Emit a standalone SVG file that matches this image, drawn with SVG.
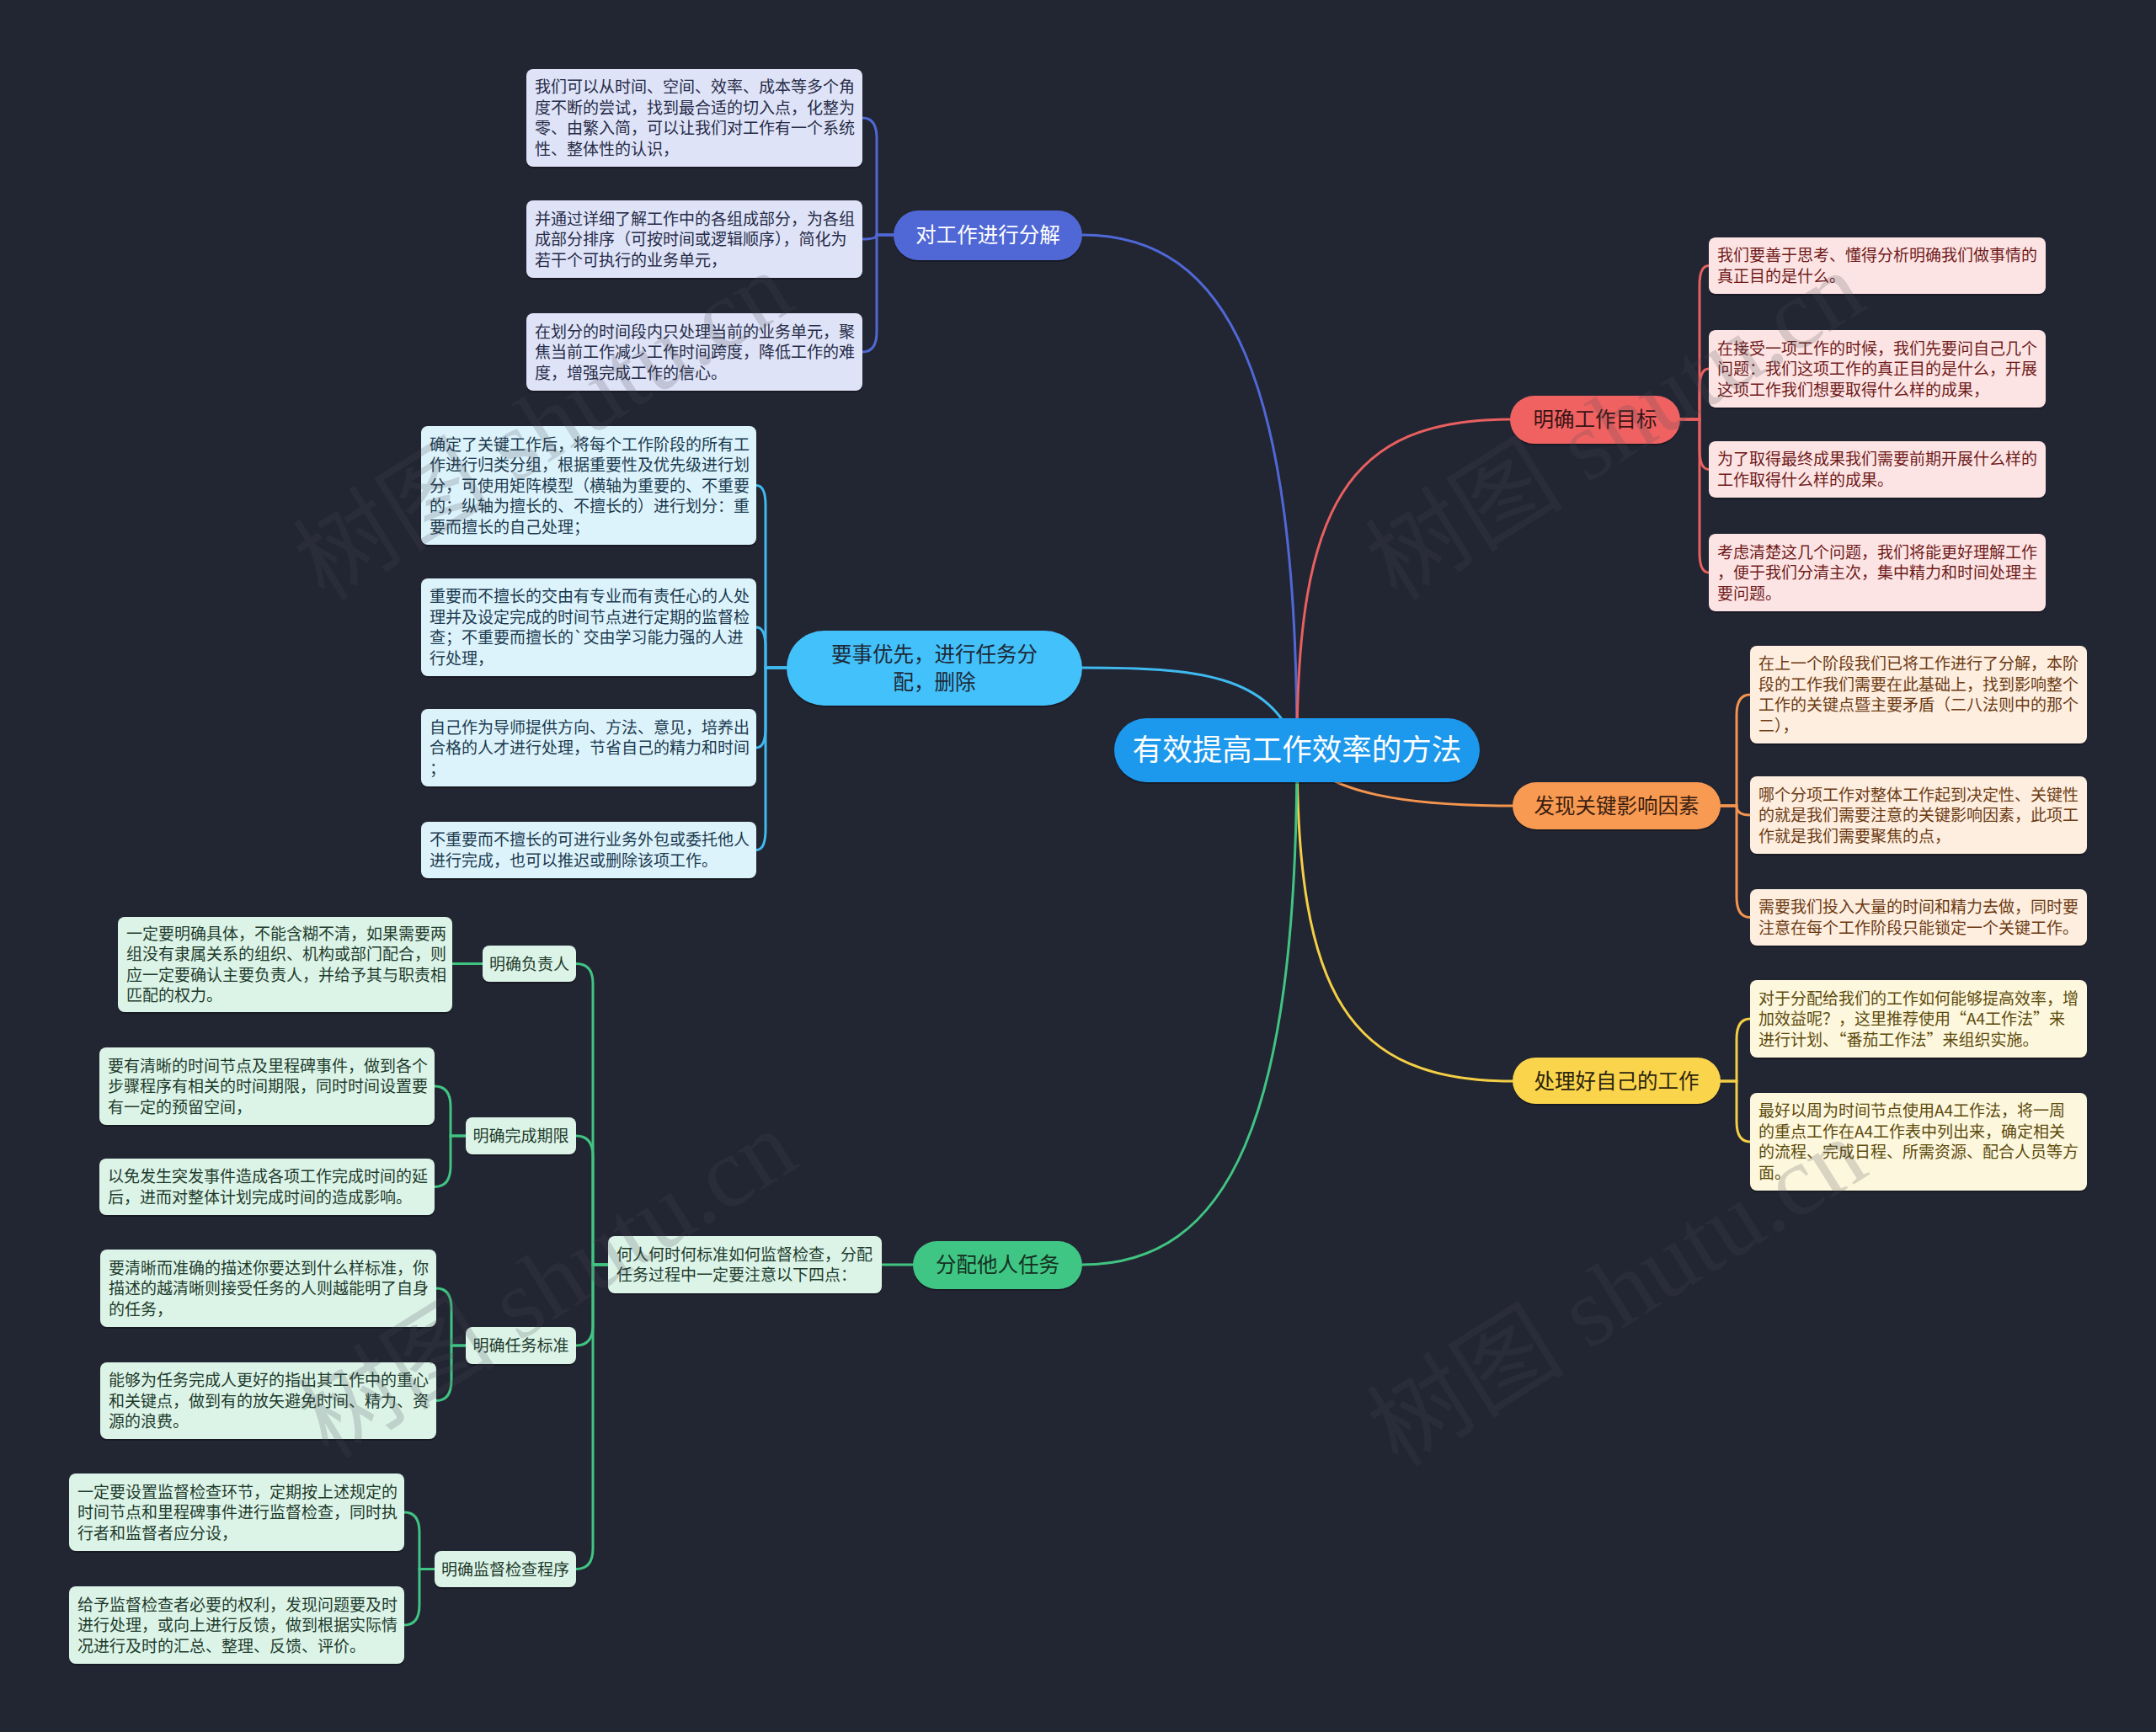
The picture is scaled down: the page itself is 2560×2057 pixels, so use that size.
<svg xmlns="http://www.w3.org/2000/svg" width="2560" height="2057" viewBox="0 0 2560 2057">
<style>
text{font-family:"Noto Sans CJK SC","Noto Sans",sans-serif;}
.lf{font-size:19px;}
.nd{font-size:24.5px;text-anchor:middle;}
.sub{font-size:19px;text-anchor:middle;fill:#1f3b2c;}
.sh{fill:#000;opacity:.28;}
.c{fill:none;stroke-width:3;stroke-linecap:round;}
.k1{stroke:#5068d6}.k2{stroke:#3fbaf0}.k3{stroke:#e86060}.k4{stroke:#f3944f}.k5{stroke:#f4cf45}.k6{stroke:#40c482}
.f1{fill:#dfe3f7}.t1{fill:#262b47}
.f2{fill:#ddf3fc}.t2{fill:#1b3a4e}
.f3{fill:#fde4e4}.t3{fill:#6e1b1b}
.f4{fill:#fdeee0}.t4{fill:#6c3a12}
.f5{fill:#fdf7dd}.t5{fill:#5c4a0c}
.f6{fill:#dcf4e8}.t6{fill:#1f3b2c}
.wm{font-family:"Liberation Serif","Noto Sans CJK SC",serif;font-size:118px;fill:#4a4c55;opacity:.2;text-anchor:middle;}
</style>
<rect width="2560" height="2057" fill="#222532"/>

<g id="connectors">
<path class="c k1" d="M1540 890 C1540 450 1460 279 1285 279"/>
<path class="c k2" d="M1285 793 C1420 793 1510 800 1540 890"/>
<path class="c k3" d="M1540 890 C1540 600 1600 498 1793 498"/>
<path class="c k4" d="M1540 890 C1570 945 1680 957 1796 957"/>
<path class="c k5" d="M1540 890 C1540 1180 1600 1284 1796 1284"/>
<path class="c k6" d="M1540 890 C1540 1330 1460 1502 1285 1502"/>

<path class="c k1" d="M1061 279 H1041 V164 Q1041 140 1024 140"/>
<path class="c k1" d="M1061 279 H1041 Q1041 284 1024 284"/>
<path class="c k1" d="M1061 279 H1041 V394 Q1041 418 1024 418"/>

<path class="c k2" d="M934 793 H909 V600 Q909 576.5 898 576.5"/>
<path class="c k2" d="M934 793 H909 V769 Q909 745 898 745"/>
<path class="c k2" d="M934 793 H909 V864 Q909 888 898 888"/>
<path class="c k2" d="M934 793 H909 V985 Q909 1009.5 898 1009.5"/>

<path class="c k3" d="M1995 498 H2018 V339 Q2018 315.5 2029 315.5"/>
<path class="c k3" d="M1995 498 H2018 V462 Q2018 438 2029 438"/>
<path class="c k3" d="M1995 498 H2018 V533 Q2018 557.5 2029 557.5"/>
<path class="c k3" d="M1995 498 H2018 V656 Q2018 680 2029 680"/>

<path class="c k4" d="M2043 957 H2062 V849 Q2062 825 2078 825"/>
<path class="c k4" d="M2043 957 H2062 Q2062 968 2078 968"/>
<path class="c k4" d="M2043 957 H2062 V1065 Q2062 1089.5 2078 1089.5"/>

<path class="c k5" d="M2043 1284 H2062 V1234 Q2062 1210 2078 1210"/>
<path class="c k5" d="M2043 1284 H2062 V1332 Q2062 1356 2078 1356"/>

<path class="c k6" d="M1084 1502 H1047"/>
<path class="c k6" d="M722 1502 H704 V1168 Q704 1144.5 684 1144.5"/>
<path class="c k6" d="M722 1502 H704 V1373 Q704 1349 684 1349"/>
<path class="c k6" d="M722 1502 H704 V1574 Q704 1598 684 1598"/>
<path class="c k6" d="M722 1502 H704 V1839 Q704 1863.5 684 1863.5"/>

<path class="c k6" d="M573 1144.5 H537"/>
<path class="c k6" d="M553 1349 H535 V1314 Q535 1290 516 1290"/>
<path class="c k6" d="M553 1349 H535 V1385 Q535 1409.5 516 1409.5"/>
<path class="c k6" d="M553 1598 H536 V1554 Q536 1530 518 1530"/>
<path class="c k6" d="M553 1598 H536 V1639 Q536 1663.5 518 1663.5"/>
<path class="c k6" d="M516 1863.5 H498 V1820 Q498 1796 480 1796"/>
<path class="c k6" d="M516 1863.5 H498 V1906 Q498 1930 480 1930"/>
</g>

<g id="root">
<rect class="sh" x="1323" y="855" width="434" height="76" rx="38"/>
<rect x="1323" y="853" width="434" height="76" rx="38" fill="#1c98ec"/>
<text x="1540" y="903" font-size="35.5" text-anchor="middle" fill="#ffffff">有效提高工作效率的方法</text>
</g>

<g id="b1">
<rect class="sh" x="1061" y="252" width="224" height="59" rx="29.5"/>
<rect x="1061" y="250" width="224" height="59" rx="29.5" fill="#5068d6"/>
<text class="nd" x="1173" y="288" fill="#ffffff">对工作进行分解</text>
</g>
<g id="b1-l1">
<rect class="sh" x="625" y="84" width="399" height="116" rx="8"/>
<rect class="f1" x="625" y="82" width="399" height="116" rx="8"/>
<text class="lf t1" x="635" y="110.25"><tspan x="635">我们可以从时间、空间、效率、成本等多个角</tspan><tspan x="635" dy="24.5">度不断的尝试，找到最合适的切入点，化整为</tspan><tspan x="635" dy="24.5">零、由繁入简，可以让我们对工作有一个系统</tspan><tspan x="635" dy="24.5">性、整体性的认识，</tspan></text>
</g>
<g id="b1-l2">
<rect class="sh" x="625" y="240" width="399" height="92" rx="8"/>
<rect class="f1" x="625" y="238" width="399" height="92" rx="8"/>
<text class="lf t1" x="635" y="266.5"><tspan x="635">并通过详细了解工作中的各组成部分，为各组</tspan><tspan x="635" dy="24.5">成部分排序（可按时间或逻辑顺序），简化为</tspan><tspan x="635" dy="24.5">若干个可执行的业务单元，</tspan></text>
</g>
<g id="b1-l3">
<rect class="sh" x="625" y="374" width="399" height="92" rx="8"/>
<rect class="f1" x="625" y="372" width="399" height="92" rx="8"/>
<text class="lf t1" x="635" y="400.5"><tspan x="635">在划分的时间段内只处理当前的业务单元，聚</tspan><tspan x="635" dy="24.5">焦当前工作减少工作时间跨度，降低工作的难</tspan><tspan x="635" dy="24.5">度，增强完成工作的信心。</tspan></text>
</g>

<g id="b2">
<rect class="sh" x="934" y="751" width="351" height="89" rx="44.5"/>
<rect x="934" y="749" width="351" height="89" rx="44.5" fill="#43c1fa"/>
<text class="nd" x="1109.5" y="786" fill="#1d2836"><tspan x="1109.5">要事优先，进行任务分</tspan><tspan x="1109.5" dy="33">配，删除</tspan></text>
</g>
<g id="b2-l1">
<rect class="sh" x="500" y="508" width="398" height="141" rx="8"/>
<rect class="f2" x="500" y="506" width="398" height="141" rx="8"/>
<text class="lf t2" x="510" y="534.5"><tspan x="510">确定了关键工作后，将每个工作阶段的所有工</tspan><tspan x="510" dy="24.5">作进行归类分组，根据重要性及优先级进行划</tspan><tspan x="510" dy="24.5">分，可使用矩阵模型（横轴为重要的、不重要</tspan><tspan x="510" dy="24.5">的；纵轴为擅长的、不擅长的）进行划分：重</tspan><tspan x="510" dy="24.5">要而擅长的自己处理；</tspan></text>
</g>
<g id="b2-l2">
<rect class="sh" x="500" y="689" width="398" height="116" rx="8"/>
<rect class="f2" x="500" y="687" width="398" height="116" rx="8"/>
<text class="lf t2" x="510" y="715.25"><tspan x="510">重要而不擅长的交由有专业而有责任心的人处</tspan><tspan x="510" dy="24.5">理并及设定完成的时间节点进行定期的监督检</tspan><tspan x="510" dy="24.5">查；不重要而擅长的`交由学习能力强的人进</tspan><tspan x="510" dy="24.5">行处理，</tspan></text>
</g>
<g id="b2-l3">
<rect class="sh" x="500" y="844" width="398" height="92" rx="8"/>
<rect class="f2" x="500" y="842" width="398" height="92" rx="8"/>
<text class="lf t2" x="510" y="870.5"><tspan x="510">自己作为导师提供方向、方法、意见，培养出</tspan><tspan x="510" dy="24.5">合格的人才进行处理，节省自己的精力和时间</tspan><tspan x="510" dy="24.5">；</tspan></text>
</g>
<g id="b2-l4">
<rect class="sh" x="500" y="978" width="398" height="67" rx="8"/>
<rect class="f2" x="500" y="976" width="398" height="67" rx="8"/>
<text class="lf t2" x="510" y="1004.25"><tspan x="510">不重要而不擅长的可进行业务外包或委托他人</tspan><tspan x="510" dy="24.5">进行完成，也可以推迟或删除该项工作。</tspan></text>
</g>

<g id="b3">
<rect class="sh" x="1793" y="472" width="202" height="57" rx="28.5"/>
<rect x="1793" y="470" width="202" height="57" rx="28.5" fill="#f06262"/>
<text class="nd" x="1894" y="507" fill="#3a1414">明确工作目标</text>
</g>
<g id="b3-l1">
<rect class="sh" x="2029" y="284" width="400" height="67" rx="8"/>
<rect class="f3" x="2029" y="282" width="400" height="67" rx="8"/>
<text class="lf t3" x="2039" y="310.25"><tspan x="2039">我们要善于思考、懂得分析明确我们做事情的</tspan><tspan x="2039" dy="24.5">真正目的是什么。</tspan></text>
</g>
<g id="b3-l2">
<rect class="sh" x="2029" y="394" width="400" height="92" rx="8"/>
<rect class="f3" x="2029" y="392" width="400" height="92" rx="8"/>
<text class="lf t3" x="2039" y="420.5"><tspan x="2039">在接受一项工作的时候，我们先要问自己几个</tspan><tspan x="2039" dy="24.5">问题：我们这项工作的真正目的是什么，开展</tspan><tspan x="2039" dy="24.5">这项工作我们想要取得什么样的成果，</tspan></text>
</g>
<g id="b3-l3">
<rect class="sh" x="2029" y="526" width="400" height="67" rx="8"/>
<rect class="f3" x="2029" y="524" width="400" height="67" rx="8"/>
<text class="lf t3" x="2039" y="552.25"><tspan x="2039">为了取得最终成果我们需要前期开展什么样的</tspan><tspan x="2039" dy="24.5">工作取得什么样的成果。</tspan></text>
</g>
<g id="b3-l4">
<rect class="sh" x="2029" y="636" width="400" height="92" rx="8"/>
<rect class="f3" x="2029" y="634" width="400" height="92" rx="8"/>
<text class="lf t3" x="2039" y="662.5"><tspan x="2039">考虑清楚这几个问题，我们将能更好理解工作</tspan><tspan x="2039" dy="24.5">，便于我们分清主次，集中精力和时间处理主</tspan><tspan x="2039" dy="24.5">要问题。</tspan></text>
</g>

<g id="b4">
<rect class="sh" x="1796" y="931" width="247" height="56" rx="28"/>
<rect x="1796" y="929" width="247" height="56" rx="28" fill="#f99a52"/>
<text class="nd" x="1919.5" y="966" fill="#3a2010">发现关键影响因素</text>
</g>
<g id="b4-l1">
<rect class="sh" x="2078" y="769" width="400" height="116" rx="8"/>
<rect class="f4" x="2078" y="767" width="400" height="116" rx="8"/>
<text class="lf t4" x="2088" y="795.25"><tspan x="2088">在上一个阶段我们已将工作进行了分解，本阶</tspan><tspan x="2088" dy="24.5">段的工作我们需要在此基础上，找到影响整个</tspan><tspan x="2088" dy="24.5">工作的关键点暨主要矛盾（二八法则中的那个</tspan><tspan x="2088" dy="24.5">二），</tspan></text>
</g>
<g id="b4-l2">
<rect class="sh" x="2078" y="924" width="400" height="92" rx="8"/>
<rect class="f4" x="2078" y="922" width="400" height="92" rx="8"/>
<text class="lf t4" x="2088" y="950.5"><tspan x="2088">哪个分项工作对整体工作起到决定性、关键性</tspan><tspan x="2088" dy="24.5">的就是我们需要注意的关键影响因素，此项工</tspan><tspan x="2088" dy="24.5">作就是我们需要聚焦的点，</tspan></text>
</g>
<g id="b4-l3">
<rect class="sh" x="2078" y="1058" width="400" height="67" rx="8"/>
<rect class="f4" x="2078" y="1056" width="400" height="67" rx="8"/>
<text class="lf t4" x="2088" y="1084.25"><tspan x="2088">需要我们投入大量的时间和精力去做，同时要</tspan><tspan x="2088" dy="24.5">注意在每个工作阶段只能锁定一个关键工作。</tspan></text>
</g>

<g id="b5">
<rect class="sh" x="1796" y="1258" width="247" height="55" rx="27.5"/>
<rect x="1796" y="1256" width="247" height="55" rx="27.5" fill="#fad44b"/>
<text class="nd" x="1919.5" y="1292.5" fill="#2b2410">处理好自己的工作</text>
</g>
<g id="b5-l1">
<rect class="sh" x="2078" y="1166" width="400" height="92" rx="8"/>
<rect class="f5" x="2078" y="1164" width="400" height="92" rx="8"/>
<text class="lf t5" x="2088" y="1192.5"><tspan x="2088">对于分配给我们的工作如何能够提高效率，增</tspan><tspan x="2088" dy="24.5">加效益呢？，这里推荐使用“A4工作法”来</tspan><tspan x="2088" dy="24.5">进行计划、“番茄工作法”来组织实施。</tspan></text>
</g>
<g id="b5-l2">
<rect class="sh" x="2078" y="1300" width="400" height="116" rx="8"/>
<rect class="f5" x="2078" y="1298" width="400" height="116" rx="8"/>
<text class="lf t5" x="2088" y="1326.25"><tspan x="2088">最好以周为时间节点使用A4工作法，将一周</tspan><tspan x="2088" dy="24.5">的重点工作在A4工作表中列出来，确定相关</tspan><tspan x="2088" dy="24.5">的流程、完成日程、所需资源、配合人员等方</tspan><tspan x="2088" dy="24.5">面。</tspan></text>
</g>

<g id="b6">
<rect class="sh" x="1084" y="1476" width="201" height="57" rx="28.5"/>
<rect x="1084" y="1474" width="201" height="57" rx="28.5" fill="#40c684"/>
<text class="nd" x="1184.5" y="1511" fill="#143020">分配他人任务</text>
</g>
<g id="b6-m">
<rect class="sh" x="722" y="1470" width="325" height="68" rx="8"/>
<rect class="f6" x="722" y="1468" width="325" height="68" rx="8"/>
<text class="lf t6" x="732" y="1496.75"><tspan x="732">何人何时何标准如何监督检查，分配</tspan><tspan x="732" dy="24.5">任务过程中一定要注意以下四点：</tspan></text>
</g>
<g id="b6-s1">
<rect class="sh" x="573" y="1125" width="111" height="43" rx="8"/>
<rect class="f6" x="573" y="1123" width="111" height="43" rx="8"/>
<text class="sub" x="628.5" y="1151.5">明确负责人</text>
</g>
<g id="b6-s1-l1">
<rect class="sh" x="140" y="1091" width="397" height="113" rx="8"/>
<rect class="f6" x="140" y="1089" width="397" height="113" rx="8"/>
<text class="lf t6" x="150" y="1115.75"><tspan x="150">一定要明确具体，不能含糊不清，如果需要两</tspan><tspan x="150" dy="24.5">组没有隶属关系的组织、机构或部门配合，则</tspan><tspan x="150" dy="24.5">应一定要确认主要负责人，并给予其与职责相</tspan><tspan x="150" dy="24.5">匹配的权力。</tspan></text>
</g>
<g id="b6-s2">
<rect class="sh" x="553" y="1329" width="131" height="44" rx="8"/>
<rect class="f6" x="553" y="1327" width="131" height="44" rx="8"/>
<text class="sub" x="618.5" y="1356">明确完成期限</text>
</g>
<g id="b6-s2-l1">
<rect class="sh" x="118" y="1246" width="398" height="92" rx="8"/>
<rect class="f6" x="118" y="1244" width="398" height="92" rx="8"/>
<text class="lf t6" x="128" y="1272.5"><tspan x="128">要有清晰的时间节点及里程碑事件，做到各个</tspan><tspan x="128" dy="24.5">步骤程序有相关的时间期限，同时时间设置要</tspan><tspan x="128" dy="24.5">有一定的预留空间，</tspan></text>
</g>
<g id="b6-s2-l2">
<rect class="sh" x="118" y="1378" width="398" height="67" rx="8"/>
<rect class="f6" x="118" y="1376" width="398" height="67" rx="8"/>
<text class="lf t6" x="128" y="1404.25"><tspan x="128">以免发生突发事件造成各项工作完成时间的延</tspan><tspan x="128" dy="24.5">后，进而对整体计划完成时间的造成影响。</tspan></text>
</g>
<g id="b6-s3">
<rect class="sh" x="553" y="1578" width="131" height="44" rx="8"/>
<rect class="f6" x="553" y="1576" width="131" height="44" rx="8"/>
<text class="sub" x="618.5" y="1605">明确任务标准</text>
</g>
<g id="b6-s3-l1">
<rect class="sh" x="119" y="1486" width="399" height="92" rx="8"/>
<rect class="f6" x="119" y="1484" width="399" height="92" rx="8"/>
<text class="lf t6" x="129" y="1512.5"><tspan x="129">要清晰而准确的描述你要达到什么样标准，你</tspan><tspan x="129" dy="24.5">描述的越清晰则接受任务的人则越能明了自身</tspan><tspan x="129" dy="24.5">的任务，</tspan></text>
</g>
<g id="b6-s3-l2">
<rect class="sh" x="119" y="1620" width="399" height="91" rx="8"/>
<rect class="f6" x="119" y="1618" width="399" height="91" rx="8"/>
<text class="lf t6" x="129" y="1646"><tspan x="129">能够为任务完成人更好的指出其工作中的重心</tspan><tspan x="129" dy="24.5">和关键点，做到有的放矢避免时间、精力、资</tspan><tspan x="129" dy="24.5">源的浪费。</tspan></text>
</g>
<g id="b6-s4">
<rect class="sh" x="516" y="1844" width="168" height="43" rx="8"/>
<rect class="f6" x="516" y="1842" width="168" height="43" rx="8"/>
<text class="sub" x="600" y="1870.5">明确监督检查程序</text>
</g>
<g id="b6-s4-l1">
<rect class="sh" x="82" y="1752" width="398" height="92" rx="8"/>
<rect class="f6" x="82" y="1750" width="398" height="92" rx="8"/>
<text class="lf t6" x="92" y="1778.5"><tspan x="92">一定要设置监督检查环节，定期按上述规定的</tspan><tspan x="92" dy="24.5">时间节点和里程碑事件进行监督检查，同时执</tspan><tspan x="92" dy="24.5">行者和监督者应分设，</tspan></text>
</g>
<g id="b6-s4-l2">
<rect class="sh" x="82" y="1886" width="398" height="92" rx="8"/>
<rect class="f6" x="82" y="1884" width="398" height="92" rx="8"/>
<text class="lf t6" x="92" y="1912.5"><tspan x="92">给予监督检查者必要的权利，发现问题要及时</tspan><tspan x="92" dy="24.5">进行处理，或向上进行反馈，做到根据实际情</tspan><tspan x="92" dy="24.5">况进行及时的汇总、整理、反馈、评价。</tspan></text>
</g>

<g id="watermarks">
<text class="wm" transform="translate(645 506) rotate(-32)" y="40">树图 shutu.cn</text>
<text class="wm" transform="translate(1918 506) rotate(-32)" y="40">树图 shutu.cn</text>
<text class="wm" transform="translate(650 1525) rotate(-32)" y="40">树图 shutu.cn</text>
<text class="wm" transform="translate(1920 1535) rotate(-32)" y="40">树图 shutu.cn</text>
</g>
</svg>
